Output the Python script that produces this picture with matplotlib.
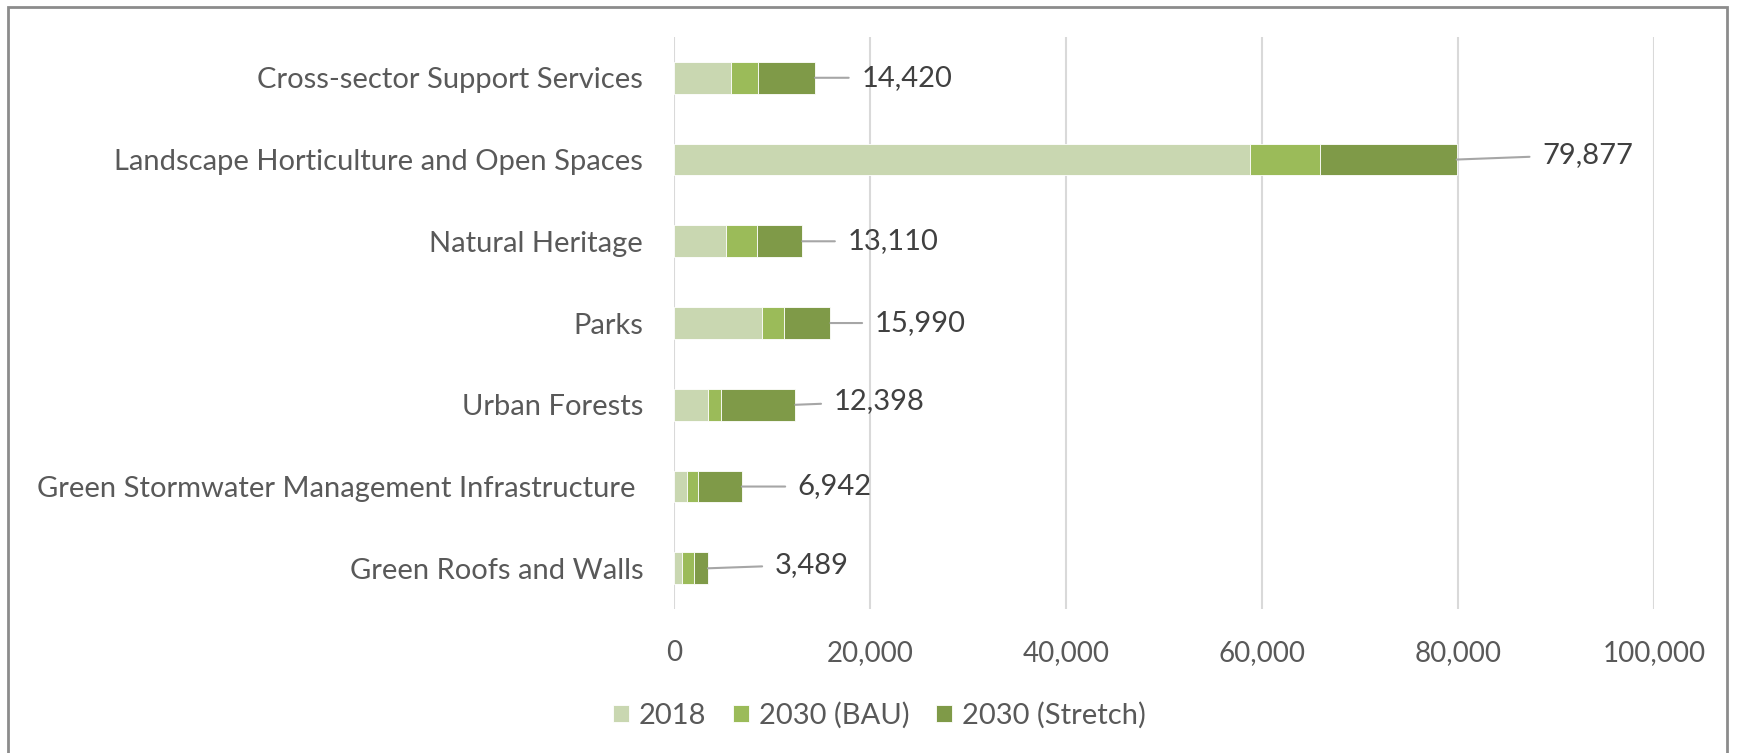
import matplotlib.pyplot as plt
import numpy as np
from matplotlib.patches import Rectangle

# categories, top to bottom as shown
categories = ["Cross-sector Support Services",
              "Landscape Horticulture and Open Spaces",
              "Natural Heritage",
              "Parks",
              "Urban Forests",
              "Green Stormwater Management Infrastructure ",
              "Green Roofs and Walls"]

# stacked segments, totals are the labels
jobs_2018 = [5870, 58800, 5360, 9000, 3490, 1350, 840]
jobs_bau = [2730, 7100, 3130, 2240, 1330, 1120, 1180]
jobs_stretch = [5820, 13977, 4620, 4750, 7578, 4472, 1469]
totals = [14420, 79877, 13110, 15990, 12398, 6942, 3489]

series_names = ["2018", "2030 (BAU)", "2030 (Stretch)"]
colors = ["#C9D7B1", "#9BBB59", "#7F9A48"]

# label placement (data units to the right of bar end, and small lift)
lab_dx = [4700, 8700, 4600, 4500, 3900, 5700, 6800]
lab_dy = [0, -0.06, 0, 0, -0.04, 0, -0.045]

plt.rcParams['font.family'] = ['Lato', 'DejaVu Sans']
txt_col = "#595959"

fig = plt.figure(figsize=(17.41, 7.53), dpi=100)
ax = fig.add_axes([0.387, 0.191, 0.563, 0.76])

y = np.arange(len(categories))
left = np.zeros(len(categories))
for vals, name, c in zip([jobs_2018, jobs_bau, jobs_stretch], series_names, colors):
    ax.barh(y, vals, left=left, height=0.39, color=c, label=name,
            edgecolor="white", linewidth=0.6, zorder=3)
    left = left + np.array(vals)

for i, t in enumerate(totals):
    ax.annotate("{:,}".format(t), xy=(t, i), xytext=(t + lab_dx[i], i + lab_dy[i]),
                ha="left", va="center", fontsize=21, color="#404040",
                arrowprops=dict(arrowstyle="-", color="#a6a6a6", lw=1.5,
                                shrinkA=7, shrinkB=0), zorder=4)

ax.set_xlim(0, 100000)
ax.set_ylim(6.5, -0.5)
ax.set_xticks(np.arange(0, 100001, 20000))
ax.set_xticklabels(["{:,}".format(v) for v in range(0, 100001, 20000)])
ax.set_yticks(y)
ax.set_yticklabels(categories)
ax.tick_params(axis="y", length=0, labelsize=21, labelcolor=txt_col, pad=22)
ax.tick_params(axis="x", length=0, labelsize=20, labelcolor=txt_col, pad=22)
ax.grid(axis="x", color="#d9d9d9", lw=1.5, zorder=0)
for s in ax.spines.values():
    s.set_visible(False)

leg = fig.legend(loc="center", bbox_to_anchor=(0.505, 0.05), ncol=3, frameon=False,
                 fontsize=21, handlelength=0.55, handleheight=0.55,
                 handletextpad=0.35, columnspacing=0.9)
for t in leg.get_texts():
    t.set_color(txt_col)

# outer chart border
fig.patches.append(Rectangle((8 / 1741, -0.05), (1727 - 8) / 1741, 1 - 7 / 753 + 0.05,
                             transform=fig.transFigure, fill=False,
                             edgecolor="#8c8c8c", lw=2))

plt.savefig("out.png", dpi=100)
